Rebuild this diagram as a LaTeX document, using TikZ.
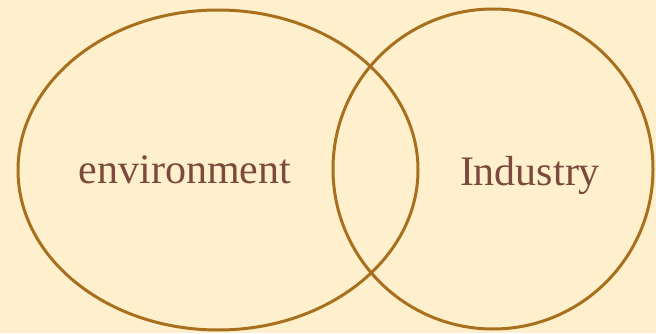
\documentclass[tikz,border=0pt]{standalone}
\usepackage{fontspec}
\setmainfont{Liberation Serif}
\usetikzlibrary{shapes.geometric,positioning}
\definecolor{paper}{HTML}{FEF0CC}
\definecolor{ring}{HTML}{A8701E}
\definecolor{word}{HTML}{7B4A3C}
\tikzset{set/.style={ellipse,draw=ring,line width=3pt,inner sep=0pt}}
\tikzset{label/.style={text=word,font=\fontsize{42}{50}\selectfont,inner sep=0pt,anchor=base}}

\begin{document}
\begin{tikzpicture}[x=1pt,y=1pt]
\fill[paper] (0,0) rectangle (656,333);
\useasboundingbox (0,0) rectangle (656,333);
%
\node (env) [set,minimum width=400pt,minimum height=320pt] at (218,163) {};
\node (ind) [set,minimum width=320pt,minimum height=320pt] at (493,164) {};
%
\node (envtext) [label] at (185,150) {environment};
\node (indtext) [label] at (530,148) {Industry};
\end{tikzpicture}
\end{document}
